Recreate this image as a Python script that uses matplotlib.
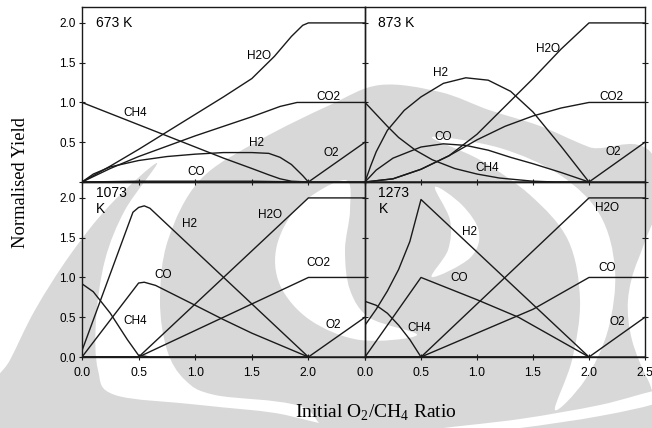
"""Normalised product yields vs initial O2/CH4 ratio at four temperatures."""

import numpy as np
import matplotlib
matplotlib.use("Agg")
import matplotlib.pyplot as plt
from matplotlib.path import Path
from matplotlib.patches import PathPatch

plt.rcParams["font.family"] = ["Liberation Sans", "DejaVu Sans"]
plt.rcParams["mathtext.fontset"] = "custom"
plt.rcParams["mathtext.rm"] = "Liberation Serif"

W, H = 652, 428
LINE = "#1a1a1a"
GREY = "#d8d8d8"

# (ratio, normalised yield) pairs for each species
o2_all = [(0, 0), (2.0, 0), (2.5, 0.5)]

h2o_673 = [(0, 0), (0.25, 0.2), (0.5, 0.41), (0.75, 0.63), (1.0, 0.85), (1.25, 1.07),
           (1.5, 1.3), (1.7, 1.58), (1.85, 1.83), (1.95, 1.97), (2.0, 2.0), (2.5, 2.0)]
co2_673 = [(0, 0), (0.25, 0.17), (0.5, 0.32), (0.75, 0.45), (1.0, 0.58), (1.25, 0.7),
           (1.5, 0.82), (1.75, 0.95), (1.9, 1.0), (2.0, 1.0), (2.5, 1.0)]
h2_673 = [(0, 0), (0.1, 0.1), (0.25, 0.19), (0.5, 0.27), (0.75, 0.32), (1.0, 0.35),
          (1.25, 0.37), (1.5, 0.37), (1.65, 0.36), (1.75, 0.31), (1.85, 0.22),
          (1.95, 0.08), (2.0, 0)]
ch4_673 = [(0, 1.0), (0.5, 0.72), (1.0, 0.44), (1.25, 0.3), (1.5, 0.17), (1.65, 0.09),
           (1.75, 0.04), (1.85, 0.01), (2.0, 0), (2.5, 0)]
co_673 = [(0, 0), (0.5, 0.01), (1.0, 0.01), (1.5, 0.01), (2.0, 0), (2.5, 0)]

h2o_873 = [(0, 0), (0.25, 0.04), (0.5, 0.16), (0.75, 0.33), (1.0, 0.6), (1.25, 0.95),
           (1.5, 1.3), (1.75, 1.67), (2.0, 2.0), (2.5, 2.0)]
co2_873 = [(0, 0), (0.25, 0.04), (0.5, 0.16), (0.75, 0.33), (0.9, 0.45), (1.0, 0.53),
           (1.25, 0.7), (1.5, 0.83), (1.75, 0.93), (2.0, 1.0), (2.5, 1.0)]
h2_873 = [(0, 0), (0.05, 0.2), (0.1, 0.38), (0.2, 0.65), (0.35, 0.9), (0.5, 1.07),
          (0.7, 1.24), (0.9, 1.31), (1.1, 1.28), (1.3, 1.14), (1.5, 0.88), (1.75, 0.45),
          (2.0, 0)]
ch4_873 = [(0, 1.0), (0.1, 0.85), (0.2, 0.7), (0.3, 0.56), (0.45, 0.4), (0.6, 0.28),
           (0.8, 0.17), (1.0, 0.1), (1.2, 0.05), (1.5, 0.01), (1.7, 0), (2.5, 0)]
co_873 = [(0, 0), (0.1, 0.15), (0.25, 0.3), (0.5, 0.44), (0.7, 0.48), (0.9, 0.46),
          (1.1, 0.4), (1.3, 0.31), (1.5, 0.23), (1.75, 0.12), (2.0, 0)]

h2_1073 = [(0, 0.08), (0.45, 1.82), (0.5, 1.88), (0.55, 1.9), (0.6, 1.87), (2.0, 0)]
co_1073 = [(0, 0), (0.5, 0.93), (0.55, 0.94), (0.65, 0.9), (1.0, 0.65), (1.25, 0.47),
           (1.5, 0.3), (1.75, 0.15), (2.0, 0)]
ch4_1073 = [(0, 0.92), (0.1, 0.82), (0.25, 0.55), (0.4, 0.22), (0.5, 0.02), (0.6, 0),
            (2.5, 0)]
h2o_1073 = [(0, 0), (0.5, 0), (2.0, 2.0), (2.5, 2.0)]
co2_1073 = [(0, 0), (0.5, 0), (2.0, 1.0), (2.5, 1.0)]

h2_1273 = [(0, 0.4), (0.1, 0.6), (0.2, 0.83), (0.3, 1.1), (0.4, 1.45), (0.5, 1.98),
           (2.0, 0)]
co_1273 = [(0, 0), (0.5, 1.0), (1.0, 0.72), (1.37, 0.5), (2.0, 0)]
ch4_1273 = [(0, 0.7), (0.1, 0.65), (0.2, 0.55), (0.3, 0.4), (0.4, 0.22), (0.5, 0.0),
            (2.5, 0)]
h2o_1273 = [(0, 0), (0.5, 0), (2.0, 2.0), (2.5, 2.0)]
co2_1273 = [(0, 0), (0.5, 0), (1.0, 0.3), (1.5, 0.6), (2.0, 1.0), (2.5, 1.0)]

# curve labels: (text, ratio, yield)
labels_673 = [("H2O", 1.56, 1.58), ("CO2", 2.18, 1.07), ("CH4", 0.47, 0.87),
              ("H2", 1.54, 0.49), ("CO", 1.01, 0.12), ("O2", 2.2, 0.37)]
labels_873 = [("H2O", 1.63, 1.67), ("H2", 0.67, 1.37), ("CO2", 2.2, 1.07),
              ("CO", 0.7, 0.57), ("CH4", 1.09, 0.17), ("O2", 2.22, 0.38)]
labels_1073 = [("H2", 0.95, 1.67), ("H2O", 1.66, 1.78), ("CO2", 2.09, 1.18),
               ("CO", 0.72, 1.03), ("CH4", 0.47, 0.45), ("O2", 2.22, 0.4)]
labels_1273 = [("H2", 0.93, 1.57), ("H2O", 2.16, 1.87), ("CO", 0.84, 0.99),
               ("CO", 2.16, 1.12), ("CH4", 0.48, 0.36), ("O2", 2.25, 0.44)]

xticks = [0, 0.5, 1.0, 1.5, 2.0, 2.5]
yticks = [0, 0.5, 1.0, 1.5, 2.0]


def blob(fig, pts, color):
    """Closed smooth shape through pixel points (y measured from the top)."""
    p = np.array(pts, float)
    p[:, 0] /= W
    p[:, 1] = 1 - p[:, 1] / H
    n = len(p)
    verts = [p[0]]
    codes = [Path.MOVETO]
    for i in range(n):
        p0, p1, p2, p3 = p[i - 1], p[i], p[(i + 1) % n], p[(i + 2) % n]
        verts += [p1 + (p2 - p0) / 6, p2 - (p3 - p1) / 6, p2]
        codes += [Path.CURVE4] * 3
    patch = PathPatch(Path(verts, codes), fc=color, ec="none",
                      transform=fig.transFigure, zorder=-10)
    fig.add_artist(patch)


def draw_logo(fig):
    """Faint emblem behind the panels."""
    blob(fig, [(157, 163), (110, 205), (70, 255), (35, 310), (10, 360), (-5, 385),
               (-5, 440), (335, 440), (290, 416), (200, 405), (115, 395), (98, 370),
               (96, 320), (105, 260), (125, 210)], GREY)
    blob(fig, [(380, 85), (440, 92), (489, 110), (540, 126), (589, 147), (660, 172),
               (660, 440), (365, 440), (300, 406), (215, 395), (185, 380), (167, 350),
               (160, 300), (168, 240), (200, 180), (260, 140), (330, 105)], GREY)
    # white crescents inside
    blob(fig, [(432, 137), (500, 148), (560, 175), (600, 215), (615, 270), (608, 330),
               (585, 380), (555, 410), (572, 360), (580, 300), (568, 240), (530, 195),
               (480, 160)], "white")
    blob(fig, [(345, 180), (300, 205), (277, 245), (280, 285), (310, 320), (360, 340),
               (417, 335), (370, 318), (350, 290), (345, 250), (350, 210)], "white")
    blob(fig, [(435, 187), (462, 205), (479, 232), (470, 258), (432, 277), (448, 250),
               (450, 220)], "white")
    blob(fig, [(430, 430), (520, 419), (600, 405), (660, 390), (660, 402), (600, 416),
               (520, 428), (470, 432)], "white")
    blob(fig, [(660, 225), (638, 260), (628, 300), (632, 340), (648, 380), (660, 392)],
         "white")


def plot_panel(ax, curves, labels, title, title_y, title_va):
    for pts in curves:
        xs, ys = zip(*pts)
        ax.plot(xs, ys, color=LINE, lw=1.0, solid_joinstyle="round")
    for text, x, y in labels:
        ax.text(x, y, text, fontsize=8.5, ha="center", va="center", clip_on=False)
    ax.text(0.12, title_y, title, fontsize=10, ha="left", va=title_va,
            linespacing=1.15)
    ax.set_xlim(0, 2.5)
    ax.set_ylim(0, 2.2)
    ax.set_xticks(xticks)
    ax.set_yticks(yticks)
    ax.set_facecolor("none")
    ax.tick_params(direction="inout", length=5, width=0.8, color=LINE)
    ax.tick_params(axis="x", labelsize=8.8, pad=4.5)
    ax.tick_params(axis="y", labelsize=8.5, pad=2)
    for sp in ax.spines.values():
        sp.set_linewidth(1.0)
        sp.set_color(LINE)


def main():
    fig = plt.figure(figsize=(W / 100, H / 100), dpi=100)
    draw_logo(fig)

    x0, xm, x1 = 82, 365, 645
    top, mid, bot = 7, 182, 357
    ax_tl = fig.add_axes([x0 / W, 1 - mid / H, (xm - x0) / W, (mid - top) / H])
    ax_tr = fig.add_axes([xm / W, 1 - mid / H, (x1 - xm) / W, (mid - top) / H])
    ax_bl = fig.add_axes([x0 / W, 1 - bot / H, (xm - x0) / W, (bot - mid) / H])
    ax_br = fig.add_axes([xm / W, 1 - bot / H, (x1 - xm) / W, (bot - mid) / H])

    plot_panel(ax_tl, [h2o_673, co2_673, h2_673, ch4_673, co_673, o2_all],
               labels_673, "673 K", 2.0, "center")
    plot_panel(ax_tr, [h2o_873, co2_873, h2_873, ch4_873, co_873, o2_all],
               labels_873, "873 K", 2.0, "center")
    plot_panel(ax_bl, [h2_1073, co_1073, ch4_1073, h2o_1073, co2_1073, o2_all],
               labels_1073, "1073\nK", 2.15, "top")
    plot_panel(ax_br, [h2_1273, co_1273, ch4_1273, h2o_1273, co2_1273, o2_all],
               labels_1273, "1273\nK", 2.15, "top")

    # shared edges: only the outer panels carry tick labels
    for ax in (ax_tl, ax_tr):
        ax.tick_params(labelbottom=False)
    for ax in (ax_tr, ax_br):
        ax.tick_params(axis="y", labelleft=False, right=True)
    ax_tl.set_yticklabels(["", "0.5", "1.0", "1.5", "2.0"])
    ax_bl.set_yticklabels(["0.0", "0.5", "1.0", "1.5", "2.0"])
    ax_bl.set_xticklabels(["0.0", "0.5", "1.0", "1.5", "2.0", ""])
    ax_br.set_xticklabels(["0.0", "0.5", "1.0", "1.5", "2.0", "2.5"])

    fig.text(21 / W, 1 - 183 / H, "Normalised Yield", rotation=90, ha="center",
             va="center", fontsize=13.3, family="Liberation Serif")
    fig.text(376 / W, 1 - 413 / H, r"Initial O$_{2}$/CH$_{4}$ Ratio", ha="center",
             va="center", fontsize=14, family="Liberation Serif")

    fig.savefig("out.png", dpi=100)


if __name__ == "__main__":
    main()
